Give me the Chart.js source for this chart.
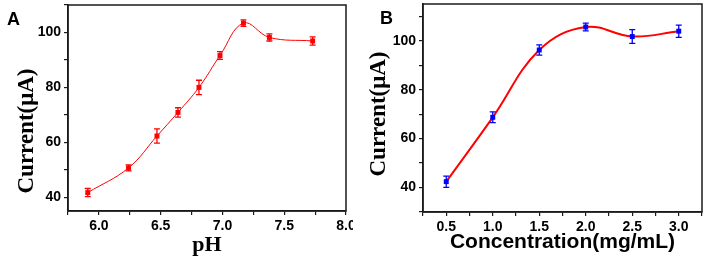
<!DOCTYPE html>
<html>
<head>
<meta charset="utf-8">
<script src="https://cdn.jsdelivr.net/npm/chart.js@4.4.1/dist/chart.umd.min.js"></script>
<style>
  html, body { margin: 0; padding: 0; background: #fff; }
  #wrap { position: relative; width: 706px; height: 262px; overflow: hidden; }
  canvas { position: absolute; top: 0; }
  #chartA { left: 0; }
  #chartB { left: 353px; }
</style>
</head>
<body>
<div id="wrap">
  <canvas id="chartA" width="353" height="262"></canvas>
  <canvas id="chartB" width="353" height="262"></canvas>
</div>
<script>
// Panel A: current vs pH
const phValues = [5.91, 6.24, 6.47, 6.64, 6.81, 6.98, 7.17, 7.38, 7.73];
const phCurrent = [41.7, 50.7, 62.3, 70.9, 80.0, 91.6, 103.4, 98.2, 96.9];
const phError = [1.5, 1.1, 2.6, 1.7, 2.6, 1.4, 1.2, 1.3, 1.5];
const phTickLabels = [6.0, 6.5, 7.0, 7.5, 8.0];

// Panel B: current vs concentration
const concValues = [0.5, 1.0, 1.5, 2.0, 2.5, 3.0];
const concCurrent = [42.4, 68.7, 96.2, 105.6, 101.7, 103.9];
const concError = [2.3, 2.2, 2.1, 1.6, 2.8, 2.5];
const concTickLabels = [0.5, 1.0, 1.5, 2.0, 2.5, 3.0];

const currentTickLabels = [40, 60, 80, 100];

const tickFont = { family: '"Liberation Sans", Arial, sans-serif', size: 14, weight: 'bold' };

function hasTick(list, v) {
    return list.some(t => Math.abs(t - v) < 1e-6);
}

// no extra room for the end labels, the axes sit where the figure has them
function clearPadding(s) {
    s.paddingTop = 0;
    s.paddingBottom = 0;
    s.paddingLeft = 0;
    s.paddingRight = 0;
}

// error bars drawn from the y scale
const errorBars = {
    id: 'errorBars',
    afterDatasetsDraw(chart) {
        const ctx = chart.ctx;
        const yScale = chart.scales.y;
        chart.data.datasets.forEach((ds, i) => {
            if (!ds.errors) return;
            const meta = chart.getDatasetMeta(i);
            ctx.save();
            ctx.strokeStyle = ds.errorColor;
            ctx.lineWidth = 1.3;
            meta.data.forEach((pt, j) => {
                const v = ds.data[j].y;
                const top = yScale.getPixelForValue(v + ds.errors[j]);
                const bot = yScale.getPixelForValue(v - ds.errors[j]);
                ctx.beginPath();
                ctx.moveTo(pt.x, top); ctx.lineTo(pt.x, bot);
                ctx.moveTo(pt.x - 3, top); ctx.lineTo(pt.x + 3, top);
                ctx.moveTo(pt.x - 3, bot); ctx.lineTo(pt.x + 3, bot);
                ctx.stroke();
            });
            ctx.restore();
        });
    }
};

// box frame, panel letter and rotated y title
const decorations = {
    id: 'decorations',
    afterDraw(chart, args, opts) {
        const ctx = chart.ctx;
        const a = chart.chartArea;
        ctx.save();
        ctx.strokeStyle = '#1a1a1a';
        ctx.lineWidth = 1.5;
        ctx.strokeRect(a.left, a.top, a.right - a.left, a.bottom - a.top);

        ctx.fillStyle = '#000';
        ctx.font = 'bold 18px "Liberation Sans", Arial, sans-serif';
        ctx.textBaseline = 'alphabetic';
        ctx.textAlign = 'left';
        ctx.fillText(opts.letter, opts.letterX, opts.letterY);

        ctx.translate(opts.titleX, opts.titleY);
        ctx.rotate(-Math.PI / 2);
        ctx.font = 'bold 23px "Liberation Serif", "Times New Roman", serif';
        ctx.textAlign = 'center';
        ctx.textBaseline = 'middle';
        ctx.fillText(opts.yTitle, 0, 0);
        ctx.restore();
    }
};

function makeChart(canvasId, xs, ys, errs, opt) {
    const points = xs.map((x, i) => ({ x: x, y: ys[i] }));
    return new Chart(document.getElementById(canvasId), {
        type: 'line',
        data: {
            datasets: [{
                data: points,
                errors: errs,
                errorColor: opt.markerColor,
                borderColor: '#ff0000',
                borderWidth: opt.lineWidth,
                tension: opt.tension,
                pointStyle: 'rect',
                pointRadius: 3.5,
                pointBackgroundColor: opt.markerColor,
                pointBorderWidth: 0
            }]
        },
        options: {
            responsive: false,
            devicePixelRatio: 1,
            animation: false,
            layout: { padding: opt.padding },
            plugins: {
                legend: { display: false },
                tooltip: { enabled: false },
                decorations: opt.decor
            },
            scales: {
                x: {
                    type: 'linear',
                    min: opt.xMin,
                    max: opt.xMax,
                    afterFit: s => { s.height = opt.xAxisHeight; clearPadding(s); },
                    border: { display: true, color: '#1a1a1a', width: 1.5 },
                    grid: { drawOnChartArea: false, drawTicks: true, tickLength: 4, color: '#1a1a1a', lineWidth: 1.2 },
                    ticks: {
                        stepSize: 0.25,
                        includeBounds: false,
                        autoSkip: false,
                        maxRotation: 0,
                        padding: 3,
                        color: '#000',
                        font: tickFont,
                        callback: v => hasTick(opt.xLabels, v) ? v.toFixed(1) : ''
                    },
                    title: {
                        display: true,
                        text: opt.xTitle,
                        color: '#000',
                        font: opt.xTitleFont,
                        padding: { top: 0, bottom: opt.xTitlePad }
                    }
                },
                y: {
                    min: opt.yMin,
                    max: opt.yMax,
                    afterFit: s => { s.width = opt.yAxisWidth; clearPadding(s); },
                    border: { display: true, color: '#1a1a1a', width: 1.5 },
                    grid: { drawOnChartArea: false, drawTicks: true, tickLength: 4, color: '#1a1a1a', lineWidth: 1.2 },
                    ticks: {
                        stepSize: 10,
                        includeBounds: false,
                        autoSkip: false,
                        padding: 3,
                        color: '#000',
                        font: tickFont,
                        callback: v => hasTick(currentTickLabels, v) ? String(v) : ''
                    }
                }
            }
        },
        plugins: [errorBars, decorations]
    });
}

makeChart('chartA', phValues, phCurrent, phError, {
    markerColor: '#ff0000',
    lineWidth: 1,
    tension: 0.4,
    padding: { left: 0, right: 7, top: 5, bottom: 0 },
    xMin: 5.75, xMax: 8.0,
    yMin: 35, yMax: 110,
    xLabels: phTickLabels,
    xAxisHeight: 51,
    yAxisWidth: 68,
    xTitle: 'pH',
    xTitleFont: { family: '"Liberation Serif", "Times New Roman", serif', size: 22, weight: 'bold' },
    xTitlePad: 3,
    decor: { letter: 'A', letterX: 7, letterY: 25, yTitle: 'Current(μA)', titleX: 27, titleY: 131 }
});

makeChart('chartB', concValues, concCurrent, concError, {
    markerColor: '#0000ff',
    lineWidth: 2,
    tension: 0.4,
    padding: { left: 0, right: 3, top: 3, bottom: 0 },
    xMin: 0.25, xMax: 3.25,
    yMin: 30, yMax: 115,
    xLabels: concTickLabels,
    xAxisHeight: 50,
    yAxisWidth: 70,
    xTitle: 'Concentration(mg/mL)',
    xTitleFont: { family: '"Liberation Sans", Arial, sans-serif', size: 21, weight: 'bold' },
    xTitlePad: 7,
    decor: { letter: 'B', letterX: 27, letterY: 24, yTitle: 'Current(μA)', titleX: 26, titleY: 114 }
});
</script>
</body>
</html>
